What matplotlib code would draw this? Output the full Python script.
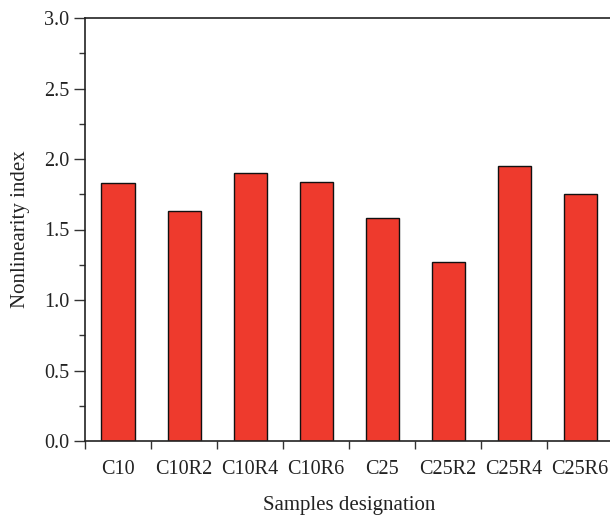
import matplotlib
matplotlib.use("Agg")
import matplotlib.pyplot as plt
import numpy as np
from matplotlib.ticker import MultipleLocator, FixedLocator, NullFormatter, FixedFormatter

samples = ["C10", "C10R2", "C10R4", "C10R6", "C25", "C25R2", "C25R4", "C25R6"]
nonlinearity = [1.83, 1.63, 1.90, 1.84, 1.58, 1.27, 1.95, 1.75]

plt.rcParams['font.family'] = ['Liberation Serif', 'DejaVu Serif']

fig = plt.figure(figsize=(6.10, 5.19), dpi=100)
ax = fig.add_axes([85 / 610, 78 / 519, 528 / 610, 423 / 519])

pos = np.arange(len(samples)) + 0.5
ax.bar(pos, nonlinearity, width=0.5, color='#EE3A2D', edgecolor='#111111', linewidth=1.0, zorder=2)

ax.set_xlim(0, len(samples))
ax.set_ylim(0, 3.0)

# ticks between the categories, labels at the centres
ax.xaxis.set_major_locator(FixedLocator(np.arange(len(samples) + 1)))
ax.xaxis.set_major_formatter(NullFormatter())
ax.xaxis.set_minor_locator(FixedLocator(pos))
ax.xaxis.set_minor_formatter(FixedFormatter(samples))
ax.tick_params(axis='x', which='major', direction='out', length=6, width=1, color='#333333')
ax.tick_params(axis='x', which='minor', length=0, pad=14, labelsize=14.5, labelcolor='#222222')

ax.yaxis.set_major_locator(FixedLocator(np.arange(0, 3.01, 0.5)))
ax.yaxis.set_minor_locator(MultipleLocator(0.25))
ax.set_yticklabels([f"{v:.1f}" for v in np.arange(0, 3.01, 0.5)])
ax.tick_params(axis='y', which='major', direction='out', length=8, width=1, color='#333333', labelsize=14.5, labelcolor='#222222')
ax.tick_params(axis='y', which='minor', direction='out', length=4, width=1, color='#333333')

for s in ax.spines.values():
    s.set_color('#222222')
    s.set_linewidth(1.2)

ax.set_xlabel("Samples designation", fontsize=15, color='#222222', labelpad=12)
ax.set_ylabel("Nonlinearity index", fontsize=15, color='#222222', labelpad=10)

fig.savefig("out.png", dpi=100)
